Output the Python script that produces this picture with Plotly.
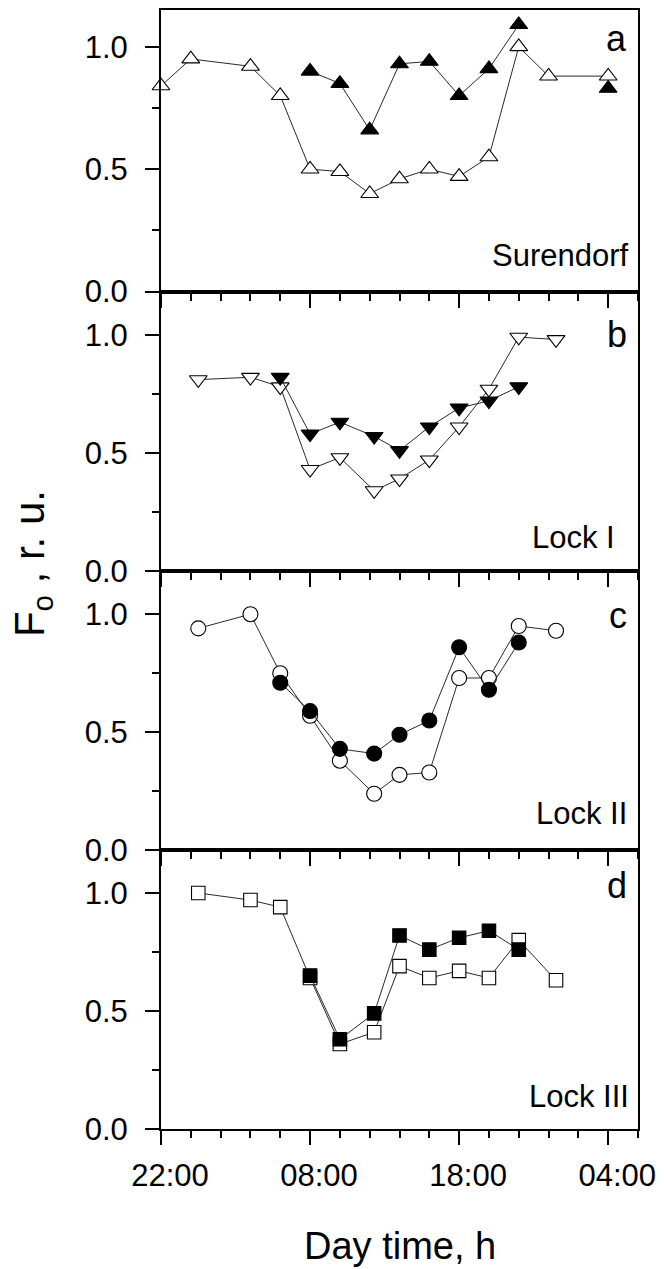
import plotly.graph_objects as go

# Time axis: hours elapsed since 22:00 on the first evening
tick_hours = [0, 10, 20, 30]
tick_labels = ["22:00", "08:00", "18:00", "04:00"]

# a: Surendorf
sur_open_t = [0, 2, 6, 8, 10, 12, 14, 16, 18, 20, 22, 24, 26, 30]
sur_open_f = [0.84, 0.95, 0.92, 0.80, 0.50, 0.49, 0.40, 0.46, 0.50, 0.47, 0.55, 1.00, 0.88, 0.88]
sur_fill_t = [10, 12, 14, 16, 18, 20, 22, 24, 27, 30]
sur_fill_f = [0.90, 0.85, 0.66, 0.93, 0.94, 0.80, 0.91, 1.09, None, 0.83]

# b: Lock I
l1_open_t = [2.5, 6, 8, 10, 12, 14.3, 16, 18, 20, 22, 24, 26.5]
l1_open_f = [0.81, 0.82, 0.78, 0.43, 0.48, 0.34, 0.39, 0.47, 0.61, 0.77, 0.99, 0.98]
l1_fill_t = [8, 10, 12, 14.3, 16, 18, 20, 22, 24]
l1_fill_f = [0.82, 0.58, 0.63, 0.57, 0.51, 0.61, 0.69, 0.72, 0.78]

# c: Lock II
l2_open_t = [2.5, 6, 8, 10, 12, 14.3, 16, 18, 20, 22, 24, 26.5]
l2_open_f = [0.94, 1.00, 0.75, 0.57, 0.38, 0.24, 0.32, 0.33, 0.73, 0.73, 0.95, 0.93]
l2_fill_t = [8, 10, 12, 14.3, 16, 18, 20, 22, 24]
l2_fill_f = [0.71, 0.59, 0.43, 0.41, 0.49, 0.55, 0.86, 0.68, 0.88]

# d: Lock III
l3_open_t = [2.5, 6, 8, 10, 12, 14.3, 16, 18, 20, 22, 24, 26.5]
l3_open_f = [1.00, 0.97, 0.94, 0.64, 0.36, 0.41, 0.69, 0.64, 0.67, 0.64, 0.80, 0.63]
l3_fill_t = [10, 12, 14.3, 16, 18, 20, 22, 24]
l3_fill_f = [0.65, 0.38, 0.49, 0.82, 0.76, 0.81, 0.84, 0.76]

panel_letters = ["a", "b", "c", "d"]
site_names = ["Surendorf", "Lock I", "Lock II", "Lock III"]

panels = [
    (sur_open_t, sur_open_f, sur_fill_t, sur_fill_f, "triangle-up", 15.5),
    (l1_open_t, l1_open_f, l1_fill_t, l1_fill_f, "triangle-down", 15.5),
    (l2_open_t, l2_open_f, l2_fill_t, l2_fill_f, "circle", 15),
    (l3_open_t, l3_open_f, l3_fill_t, l3_fill_f, "square", 13.5),
]

# vertical extent of each panel (paper fraction) and its y range
domains = [[0.7484, 1.0], [0.4987, 0.7484], [0.2489, 0.4987], [0.0, 0.2489]]
y_tops = [1.15, 1.183, 1.183, 1.18]

FONT = "Liberation Sans, Arial, sans-serif"
fig = go.Figure()

for i, (ot, of, ft, ff, sym, msz) in enumerate(panels):
    n = "" if i == 0 else str(i + 1)
    fig.add_trace(go.Scatter(
        x=ot, y=of, xaxis="x" + n, yaxis="y" + n, mode="lines+markers",
        line=dict(color="#2a2a2a", width=1),
        marker=dict(symbol=sym, size=msz, color="white",
                    line=dict(color="black", width=1.1)),
        cliponaxis=False, showlegend=False))
    fig.add_trace(go.Scatter(
        x=ft, y=ff, xaxis="x" + n, yaxis="y" + n, mode="lines+markers",
        line=dict(color="#2a2a2a", width=1),
        marker=dict(symbol=sym, size=msz, color="black",
                    line=dict(color="black", width=1.1)),
        cliponaxis=False, showlegend=False, connectgaps=False))

    fig.update_layout({
        "xaxis" + n: dict(
            domain=[0, 1], anchor="y" + n, range=[0, 32],
            matches=None if i == 0 else "x",
            tickvals=tick_hours, ticktext=tick_labels,
            showticklabels=(i == 3), ticks="outside", ticklen=14, tickwidth=2,
            tickcolor="black",
            minor=dict(dtick=2, tick0=0, ticks="outside", ticklen=7,
                       tickwidth=1.5, tickcolor="black"),
            showline=True, linecolor="black", linewidth=2, mirror=True,
            showgrid=False, zeroline=False,
            tickfont=dict(family=FONT, size=31, color="black"),
            ticklabelshift=9, ticklabelstandoff=4),
        "yaxis" + n: dict(
            domain=domains[i], anchor="x" + n, range=[0, y_tops[i]],
            tickvals=[0, 0.5, 1.0], tickformat=".1f",
            ticks="outside", ticklen=14, tickwidth=2, tickcolor="black",
            minor=dict(tickvals=[0.25, 0.75], ticks="outside", ticklen=7,
                       tickwidth=1.5, tickcolor="black"),
            showline=True, linecolor="black", linewidth=2, mirror=True,
            showgrid=False, zeroline=False,
            tickfont=dict(family=FONT, size=31, color="black"),
            ticklabelstandoff=11),
    })

letter_y = [0.899, 0.846, 0.839, 0.875]
site_x = [0.986, 0.955, 0.982, 0.986]
site_y = [0.128, 0.121, 0.132, 0.118]
annotations = []
for i in range(4):
    n = "" if i == 0 else str(i + 1)
    annotations.append(dict(
        text=panel_letters[i], xref="x" + n + " domain", yref="y" + n + " domain",
        x=0.982, y=letter_y[i], xanchor="right", yanchor="middle",
        showarrow=False, font=dict(family=FONT, size=36, color="black")))
    annotations.append(dict(
        text=site_names[i], xref="x" + n + " domain", yref="y" + n + " domain",
        x=site_x[i], y=site_y[i], xanchor="right", yanchor="middle",
        showarrow=False, font=dict(family=FONT, size=31, color="black")))

annotations.append(dict(
    text="F<sub>o</sub> , r. u.", xref="paper", yref="paper",
    x=-0.268, y=0.505, xanchor="center", yanchor="middle", textangle=-90,
    showarrow=False, font=dict(family=FONT, size=42, color="black")))
annotations.append(dict(
    text="Day time, h", xref="paper", yref="paper",
    x=0.5, y=-0.1044, xanchor="center", yanchor="middle",
    showarrow=False, font=dict(family=FONT, size=38, color="black")))

fig.update_layout(
    width=664, height=1269,
    margin=dict(l=161, r=22, t=8, b=140),
    paper_bgcolor="white", plot_bgcolor="white",
    annotations=annotations,
)

fig.write_html("out.html")
